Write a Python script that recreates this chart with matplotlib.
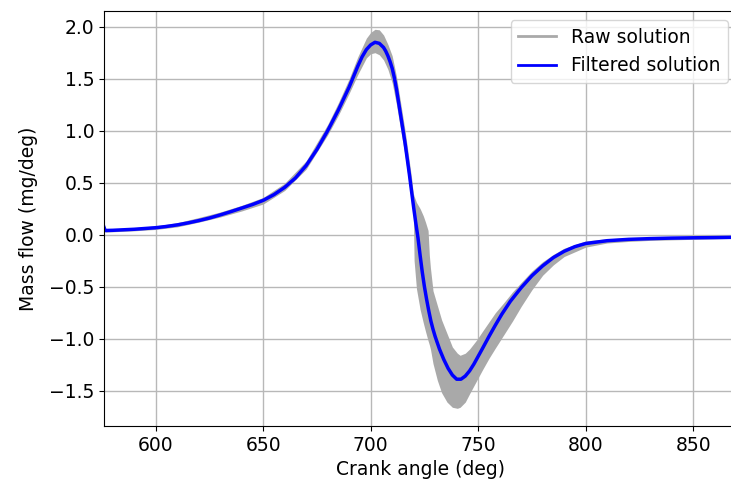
import numpy as np
import matplotlib
matplotlib.use("Agg")
import matplotlib.pyplot as plt
from matplotlib.lines import Line2D

# Filtered mass flow (mg/deg) vs crank angle (deg)
angle = [575.8, 576.5, 580, 590, 600, 605, 610, 615, 620, 625, 630, 635, 640,
         645, 650, 655, 660, 665, 670, 675, 680, 685, 690, 692, 694, 696, 698,
         700, 702, 704, 706, 707, 708, 709, 710, 711, 712, 713, 714, 715, 716,
         717, 718, 719, 720, 721, 722, 723, 724, 725, 726, 727, 728, 729, 730,
         732, 734, 736, 738, 740, 742, 744, 746, 748, 750, 752, 755, 758, 761,
         765, 770, 775, 780, 785, 790, 795, 800, 810, 820, 830, 840, 850, 860,
         870.4]
filtered = [0.08, 0.04, 0.042, 0.052, 0.067, 0.079, 0.094, 0.113, 0.135, 0.16,
            0.19, 0.222, 0.256, 0.29, 0.33, 0.385, 0.455, 0.545, 0.665, 0.82,
            1.0, 1.2, 1.42, 1.52, 1.62, 1.71, 1.78, 1.825, 1.85, 1.84, 1.80,
            1.765, 1.72, 1.665, 1.60, 1.51, 1.40, 1.27, 1.14, 1.01, 0.88, 0.73,
            0.58, 0.42, 0.26, 0.11, -0.03, -0.2, -0.36, -0.5, -0.62, -0.73,
            -0.83, -0.91, -0.98, -1.10, -1.20, -1.285, -1.35, -1.39, -1.39,
            -1.36, -1.31, -1.245, -1.17, -1.095, -0.98, -0.87, -0.765, -0.64,
            -0.51, -0.395, -0.30, -0.22, -0.16, -0.115, -0.085, -0.058, -0.045,
            -0.038, -0.033, -0.03, -0.028, -0.025]

# Envelope of the raw (unfiltered) solution
raw_angle = [575.8, 576.5, 580, 590, 600, 610, 620, 630, 640, 650, 660, 670,
             680, 685, 690, 694, 698, 700, 702, 704, 706, 708, 710, 712, 714,
             716, 718, 719, 719.8, 720.2, 721.3, 723, 724.5, 725.5, 726.7,
             727.3, 727.8, 729, 731, 733, 735.5, 738, 740.3, 741.6, 744, 746,
             749.4, 752, 755, 758, 761.7, 766, 770, 775, 780, 785, 790, 800,
             810, 820, 830, 840, 850, 860, 870.4]
raw_lower = [0.065, 0.025, 0.028, 0.037, 0.05, 0.075, 0.12, 0.17, 0.228, 0.295,
             0.425, 0.63, 0.96, 1.15, 1.36, 1.54, 1.70, 1.74, 1.75, 1.73,
             1.68, 1.59, 1.46, 1.25, 1.00, 0.76, 0.46, 0.32, 0.25, -0.25,
             -0.52, -0.72, -0.85, -0.93, -1.02, -1.06, -1.10, -1.24, -1.40,
             -1.52, -1.61, -1.66, -1.67, -1.66, -1.61, -1.53, -1.40, -1.30,
             -1.19, -1.09, -0.97, -0.83, -0.69, -0.53, -0.39, -0.29, -0.21,
             -0.12, -0.08, -0.065, -0.055, -0.05, -0.045, -0.04, -0.035]
raw_upper = [0.095, 0.055, 0.056, 0.067, 0.085, 0.115, 0.165, 0.218, 0.282,
             0.358, 0.495, 0.71, 1.06, 1.27, 1.50, 1.71, 1.89, 1.945, 1.975,
             1.97, 1.92, 1.83, 1.72, 1.52, 1.26, 1.00, 0.70, 0.55, 0.40, 0.37,
             0.31, 0.25, 0.18, 0.12, 0.04, -0.20, -0.32, -0.54, -0.68, -0.82,
             -0.95, -1.08, -1.14, -1.16, -1.14, -1.10, -1.01, -0.93, -0.84,
             -0.75, -0.66, -0.55, -0.46, -0.35, -0.26, -0.19, -0.13, -0.06,
             -0.04, -0.03, -0.025, -0.02, -0.016, -0.015, -0.013]

plt.rcParams["font.family"] = "DejaVu Sans"
fig = plt.figure(figsize=(7.31, 4.84), dpi=100)
ax = fig.add_axes([104 / 731, 58 / 484, (737 - 104) / 731, 415 / 484])

ax.fill_between(raw_angle, raw_lower, raw_upper, color="darkgray", lw=0)
ax.plot(angle, filtered, color="blue", lw=2.5)

ax.set_xlim(575.95, 870.4)
ax.set_ylim(-1.84, 2.151)
ax.set_xticks([600, 650, 700, 750, 800, 850])
ax.set_yticks(np.arange(-1.5, 2.01, 0.5))
ax.tick_params(labelsize=13.5)
ax.grid(True, color="#b8b8b8", lw=1)
ax.set_axisbelow(True)

ax.set_xlabel("Crank angle (deg)", fontsize=13.5)
ax.set_ylabel("Mass flow (mg/deg)", fontsize=13.5, labelpad=8)

handles = [Line2D([], [], color="darkgray", lw=2),
           Line2D([], [], color="blue", lw=2)]
ax.legend(handles, ["Raw solution", "Filtered solution"], loc="upper right",
          fontsize=13.5)

fig.savefig("out.png", dpi=100)
